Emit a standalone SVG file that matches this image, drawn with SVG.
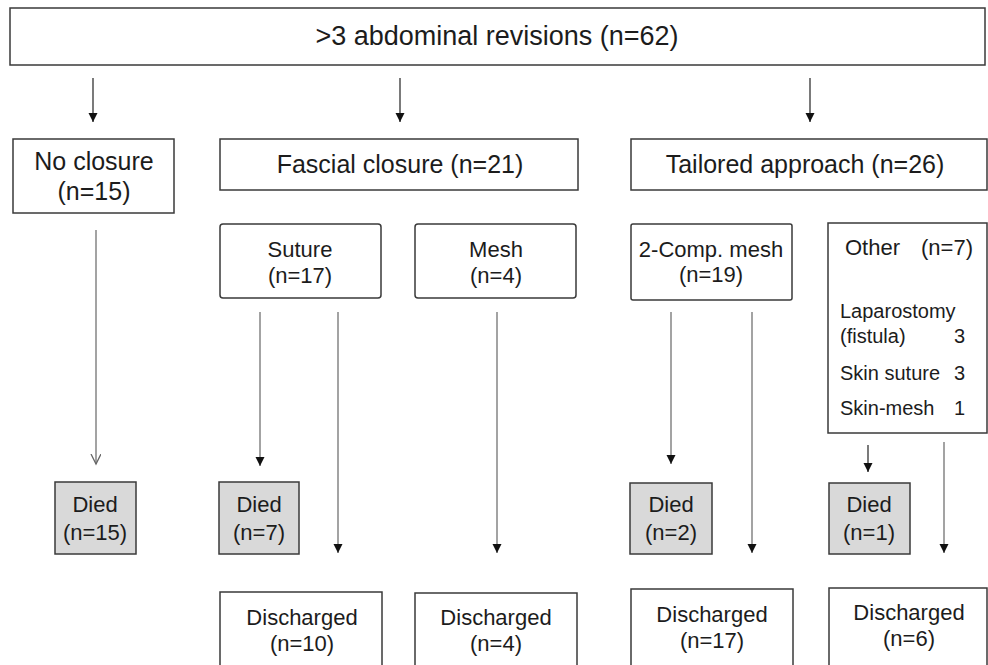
<svg xmlns="http://www.w3.org/2000/svg" width="988" height="665" viewBox="0 0 988 665">
<style>
.box{fill:#fff;stroke:#3a3a3a;stroke-width:1.5}
.died{fill:#d9d9d9;stroke:#3a3a3a;stroke-width:1.5}
text{font-family:"Liberation Sans",Arial,Helvetica,sans-serif;fill:#1c1c1c}
.c{text-anchor:middle}
.t1{font-size:27px}
.t2{font-size:25px}
.t3{font-size:22px}
.t4{font-size:20px}
.ln{fill:none;stroke:#8c8c8c;stroke-width:1.6}
.top{fill:none;stroke:#333;stroke-width:1.3}
</style>
<defs>
<marker id="ah" markerUnits="userSpaceOnUse" markerWidth="10" markerHeight="10" refX="9" refY="4.5" orient="auto" viewBox="0 0 10 10">
<path d="M0,0 L9,4.5 L0,9 z" fill="#111"/>
</marker>
<marker id="ao" markerUnits="userSpaceOnUse" markerWidth="12" markerHeight="12" refX="10" refY="5" orient="auto" viewBox="0 0 12 12">
<path d="M0,0 L10,5 L0,10" fill="none" stroke="#666" stroke-width="1.3"/>
</marker>
</defs>
<rect width="988" height="665" fill="#fff"/>

<g id="connectors">
<line class="top" x1="93" y1="78" x2="93" y2="122" marker-end="url(#ah)"/>
<line class="top" x1="400" y1="78" x2="400" y2="122" marker-end="url(#ah)"/>
<line class="top" x1="810" y1="78" x2="810" y2="122" marker-end="url(#ah)"/>
<line class="ln" x1="96" y1="230" x2="96" y2="464" marker-end="url(#ao)"/>
<line class="ln" x1="260" y1="312" x2="260" y2="466" marker-end="url(#ah)"/>
<line class="ln" x1="338" y1="312" x2="338" y2="553" marker-end="url(#ah)"/>
<line class="ln" x1="497" y1="312" x2="497" y2="553" marker-end="url(#ah)"/>
<line class="ln" x1="671" y1="312" x2="671" y2="464" marker-end="url(#ah)"/>
<line class="ln" x1="752" y1="312" x2="752" y2="553" marker-end="url(#ah)"/>
<line class="top" x1="868" y1="445" x2="868" y2="472" marker-end="url(#ah)"/>
<line class="ln" x1="944" y1="442" x2="944" y2="553" marker-end="url(#ah)"/>
</g>

<g id="root">
<rect class="box" x="10" y="8" width="975" height="57"/>
<text class="c t1" x="497" y="45">&gt;3 abdominal revisions (n=62)</text>
</g>

<g id="no-closure">
<rect class="box" x="13" y="139" width="161" height="74"/>
<text class="c t2" x="94" y="170">No closure</text>
<text class="c t2" x="94" y="200">(n=15)</text>
</g>

<g id="fascial">
<rect class="box" x="220" y="139" width="358" height="51"/>
<text class="c t2" x="400" y="173">Fascial closure (n=21)</text>
</g>

<g id="tailored">
<rect class="box" x="631" y="139" width="356" height="51"/>
<text class="c t2" x="805" y="173">Tailored approach (n=26)</text>
</g>

<g id="suture">
<rect class="box" x="220" y="224" width="161" height="74" rx="3"/>
<text class="c t3" x="300" y="257">Suture</text>
<text class="c t3" x="300" y="283">(n=17)</text>
</g>

<g id="mesh">
<rect class="box" x="415" y="224" width="161" height="74" rx="3"/>
<text class="c t3" x="496" y="257">Mesh</text>
<text class="c t3" x="496" y="283">(n=4)</text>
</g>

<g id="two-comp">
<rect class="box" x="631" y="224" width="161" height="76" rx="2"/>
<text class="c t3" x="711" y="257">2-Comp. mesh</text>
<text class="c t3" x="711" y="282">(n=19)</text>
</g>

<g id="other">
<rect class="box" x="828" y="223" width="159" height="210"/>
<text class="t3" x="845" y="255">Other</text>
<text class="t3" x="921" y="255">(n=7)</text>
<text class="t4" x="840" y="318">Laparostomy</text>
<text class="t4" x="840" y="343">(fistula)</text>
<text class="t4" x="954" y="343">3</text>
<text class="t4" x="840" y="380">Skin suture</text>
<text class="t4" x="954" y="380">3</text>
<text class="t4" x="840" y="415">Skin-mesh</text>
<text class="t4" x="954" y="415">1</text>
</g>

<g id="died-15">
<rect class="died" x="55" y="482" width="81" height="72"/>
<text class="c t3" x="95" y="512">Died</text>
<text class="c t3" x="95" y="540">(n=15)</text>
</g>

<g id="died-7">
<rect class="died" x="219" y="482" width="80" height="72"/>
<text class="c t3" x="259" y="512">Died</text>
<text class="c t3" x="259" y="540">(n=7)</text>
</g>

<g id="died-2">
<rect class="died" x="630" y="483" width="82" height="71"/>
<text class="c t3" x="671" y="512">Died</text>
<text class="c t3" x="671" y="540">(n=2)</text>
</g>

<g id="died-1">
<rect class="died" x="829" y="483" width="81" height="71"/>
<text class="c t3" x="869" y="512">Died</text>
<text class="c t3" x="869" y="540">(n=1)</text>
</g>

<g id="discharged-10">
<rect class="box" x="220" y="592" width="162" height="90"/>
<text class="c t3" x="302" y="625">Discharged</text>
<text class="c t3" x="302" y="651">(n=10)</text>
</g>

<g id="discharged-4">
<rect class="box" x="415" y="593" width="162" height="90"/>
<text class="c t3" x="496" y="625">Discharged</text>
<text class="c t3" x="496" y="651">(n=4)</text>
</g>

<g id="discharged-17">
<rect class="box" x="631" y="589" width="162" height="90"/>
<text class="c t3" x="712" y="622">Discharged</text>
<text class="c t3" x="712" y="648">(n=17)</text>
</g>

<g id="discharged-6">
<rect class="box" x="829" y="588" width="158" height="90"/>
<text class="c t3" x="909" y="620">Discharged</text>
<text class="c t3" x="909" y="646">(n=6)</text>
</g>
</svg>
